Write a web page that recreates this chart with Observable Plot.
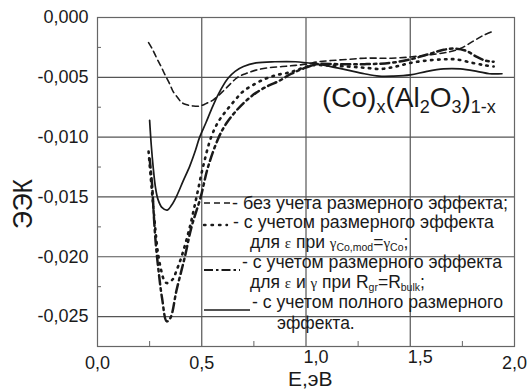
<!DOCTYPE html>
<html><head><meta charset="utf-8">
<script src="https://cdn.jsdelivr.net/npm/d3@7"></script>
<script src="https://cdn.jsdelivr.net/npm/@observablehq/plot@0.6"></script>
<style>
body{margin:0;background:#fff;}
#chart{position:relative;width:528px;height:391px;overflow:hidden;}
#chart svg{position:absolute;left:0;top:0;}
</style></head><body><div id="chart"></div>
<script>
// ---- data (E in eV, ЭЭК) ----
const E_dashed = [0.245,0.265,0.284,0.305,0.324,0.345,0.363,0.385,0.403,0.43,0.46,0.49,0.52,0.554,0.6,0.64,0.672,0.71,0.76,0.82,0.886,0.95,1.0,1.06,1.12,1.2,1.28,1.35,1.41,1.5,1.6,1.68,1.74,1.8,1.85,1.89];
const K_dashed = [-0.0021,-0.0027,-0.0034,-0.0041,-0.0048,-0.0055,-0.0062,-0.0067,-0.0071,-0.0073,-0.0074,-0.0074,-0.0072,-0.0069,-0.0062,-0.0055,-0.0050,-0.0047,-0.0044,-0.0042,-0.0041,-0.0040,-0.0039,-0.0037,-0.0036,-0.0035,-0.0034,-0.0034,-0.0034,-0.0033,-0.0031,-0.0029,-0.0026,-0.0020,-0.0015,-0.0012];

const E_dotted = [0.245,0.255,0.265,0.278,0.29,0.305,0.318,0.332,0.36,0.38,0.403,0.443,0.475,0.506,0.545,0.58,0.617,0.66,0.697,0.75,0.808,0.86,0.919,0.97,1.03,1.1,1.2,1.28,1.36,1.43,1.5,1.58,1.66,1.72,1.8,1.86,1.9];
const K_dotted = [-0.0112,-0.0133,-0.0153,-0.0178,-0.0197,-0.0211,-0.0219,-0.0222,-0.0219,-0.0211,-0.0200,-0.0175,-0.0150,-0.0125,-0.0100,-0.0087,-0.0078,-0.0069,-0.0062,-0.0056,-0.0051,-0.0048,-0.0046,-0.0043,-0.0040,-0.0040,-0.0041,-0.0042,-0.0043,-0.0041,-0.0038,-0.0036,-0.0035,-0.0035,-0.0038,-0.0040,-0.0041];

const E_dashdot = [0.25,0.262,0.27,0.28,0.295,0.31,0.332,0.35,0.379,0.419,0.451,0.495,0.53,0.582,0.62,0.665,0.71,0.76,0.82,0.871,0.93,0.983,1.05,1.15,1.28,1.4,1.5,1.6,1.66,1.72,1.77,1.82,1.86,1.9];
const K_dashdot = [-0.0118,-0.0140,-0.0165,-0.0190,-0.0215,-0.0235,-0.0254,-0.0251,-0.0228,-0.0200,-0.0175,-0.0150,-0.0125,-0.0100,-0.0088,-0.0078,-0.0070,-0.0063,-0.0057,-0.0053,-0.0047,-0.0043,-0.0039,-0.0039,-0.0039,-0.0038,-0.0035,-0.0030,-0.0027,-0.0026,-0.0028,-0.0033,-0.0036,-0.0037];

const E_solid = [0.25,0.258,0.267,0.278,0.29,0.31,0.335,0.355,0.38,0.41,0.443,0.47,0.49,0.52,0.546,0.58,0.625,0.66,0.7,0.76,0.85,0.95,1.05,1.12,1.2,1.28,1.35,1.42,1.5,1.58,1.66,1.74,1.82,1.88,1.94];
const K_solid = [-0.0086,-0.0107,-0.0125,-0.0142,-0.0152,-0.0159,-0.0161,-0.0157,-0.0149,-0.0137,-0.0124,-0.0111,-0.0100,-0.0088,-0.0077,-0.0064,-0.0051,-0.0045,-0.0041,-0.0038,-0.0037,-0.0037,-0.0039,-0.0041,-0.0044,-0.0047,-0.0049,-0.0049,-0.0048,-0.0045,-0.0043,-0.0043,-0.0045,-0.0047,-0.0047];

const xTicks = [0, 0.5, 1, 1.5, 2];
const xTicksShifted = [1, 1.5];
const xMinor = [0.25, 0.75, 1.25, 1.75];
const yTicks = [0, -0.005, -0.010, -0.015, -0.020, -0.025];
const yMinor = [-0.0025, -0.0075, -0.0125, -0.0175, -0.0225];

const xTitle = "E,эВ";
const yTitle = "ЭЭК";
const legendRows = [
  [{t:"- без учета размерного эффекта;"}],
  [{t:"- с учетом размерного эффекта"}],
  [{t:"для "},{t:"ε",g:1},{t:" при "},{t:"γ",g:1},{t:"Co,mod",s:1},{t:"="},{t:"γ",g:1},{t:"Co",s:1},{t:";"}],
  [{t:"- с учетом размерного эффекта"}],
  [{t:"для "},{t:"ε",g:1},{t:" и "},{t:"γ",g:1},{t:" при R"},{t:"gr",s:1},{t:"=R"},{t:"bulk",s:1},{t:";"}],
  [{t:"- с учетом полного размерного"}],
  [{t:"эффекта."}]
];

// ---- helpers ----
const rows = (E, K) => E.map((e, i) => ({E: e, K: K[i]}));
const loc = d3.formatLocale({decimal: ",", thousands: " ", grouping: [3], currency: ["", ""], minus: "-"});
const fy = loc.format(".3f"), fx = loc.format(".1f");
const FONT = "'Liberation Sans', Arial, sans-serif";
const INK = "#1a1a1a";

const plot = Plot.plot({
  width: 528, height: 391,
  marginLeft: 97, marginRight: 14, marginTop: 17, marginBottom: 45,
  style: {fontFamily: FONT, color: INK, background: "transparent", overflow: "visible"},
  x: {domain: [0, 2]},
  y: {domain: [-0.0275, 0]},
  marks: [
    Plot.gridX(xTicks.slice(1, -1), {stroke: "#555", strokeOpacity: 1, strokeWidth: 1.2}),
    Plot.gridY(yTicks.slice(1), {stroke: "#555", strokeOpacity: 1, strokeWidth: 1.2}),
    Plot.frame({stroke: "#666", strokeWidth: 1.2}),
    Plot.axisX(xMinor, {tickSize: -5, text: null, label: null, stroke: "#666"}),
    Plot.axisY(yMinor, {tickSize: -4, text: null, label: null, stroke: "#666"}),
    Plot.axisY(yTicks, {tickSize: 0, tickPadding: 9, tickFormat: fy, fontSize: 18, label: null}),
    Plot.axisX(xTicks.filter(v => !xTicksShifted.includes(v)), {tickSize: 0, tickPadding: 10, tickFormat: fx, fontSize: 18, label: null}),
    Plot.axisX(xTicksShifted, {tickSize: 0, tickPadding: 4, dx: 10, tickFormat: fx, fontSize: 18, label: null}),
    Plot.line(rows(E_dashed, K_dashed), {x: "E", y: "K", curve: "catmull-rom", stroke: INK, strokeWidth: 1.6, strokeDasharray: "6,4"}),
    Plot.line(rows(E_dotted, K_dotted), {x: "E", y: "K", curve: "catmull-rom", stroke: INK, strokeWidth: 2.6, strokeDasharray: "1.5,5.5", strokeLinecap: "round"}),
    Plot.line(rows(E_dashdot, K_dashdot), {x: "E", y: "K", curve: "catmull-rom", stroke: INK, strokeWidth: 2.5, strokeDasharray: "9,4,2.5,4"}),
    Plot.line(rows(E_solid, K_solid), {x: "E", y: "K", curve: "catmull-rom", stroke: INK, strokeWidth: 1.7})
  ]
});
document.getElementById("chart").appendChild(plot);

// ---- overlay: titles, formula and legend ----
const ov = d3.select("#chart").append("svg")
  .attr("width", 528).attr("height", 391)
  .style("font-family", FONT).style("pointer-events", "none");

// y title
ov.append("text").attr("transform", "translate(32,204) rotate(-90)")
  .attr("text-anchor", "middle").attr("font-size", 27).attr("fill", INK)
  .attr("textLength", 50).attr("lengthAdjust", "spacingAndGlyphs").text(yTitle);
// x title
ov.append("text").attr("x", 288).attr("y", 386)
  .attr("font-size", 21).attr("fill", INK).text(xTitle);

// formula
const f = ov.append("text").attr("x", 322).attr("y", 107).attr("font-size", 28).attr("fill", INK);
const parts = [["(Co)",0],["x",1],["(Al",0],["2",1],["O",0],["3",1],[")",0],["1-x",1]];
let prevSub = 0;
parts.forEach(([t, s]) => {
  const sp = f.append("tspan").text(t);
  if (s) sp.attr("font-size", 18);
  const shift = (s ? 6 : 0) - prevSub;
  if (shift) sp.attr("dy", shift);
  prevSub = s ? 6 : 0;
});

// legend samples
const samples = [
  {y: 203, x2: 230, w: 1.6, dash: "6,4"},
  {y: 225, x2: 227, w: 2.4, dash: "1.5,6", cap: "round"},
  {y: 270, x2: 240, w: 2.2, dash: "9,3,2.5,3"},
  {y: 310, x2: 250, w: 1.6, dash: null}
];
samples.forEach(s => {
  const l = ov.append("line").attr("x1", 204).attr("x2", s.x2).attr("y1", s.y).attr("y2", s.y)
    .attr("stroke", INK).attr("stroke-width", s.w);
  if (s.dash) l.attr("stroke-dasharray", s.dash);
  if (s.cap) l.attr("stroke-linecap", s.cap);
});

// legend text rows
const rowX = [232, 233, 250, 242, 250, 252, 277];
const rowY = [209, 228, 248, 268, 288, 308, 329];
const rowLen = [276, 261, null, 260, null, 251, null];
legendRows.forEach((parts, i) => {
  const t = ov.append("text").attr("x", rowX[i]).attr("y", rowY[i])
    .attr("font-size", 17.5).attr("fill", INK);
  if (rowLen[i]) t.attr("textLength", rowLen[i]).attr("lengthAdjust", "spacingAndGlyphs");
  let prev = 0;
  parts.forEach(p => {
    const sp = t.append("tspan").text(p.t);
    if (p.g) sp.attr("font-family", "'Liberation Serif', 'Times New Roman', serif").attr("font-size", 15);
    if (p.s) sp.attr("font-size", 10.5);
    const cur = p.s ? 3 : 0;
    if (cur - prev) sp.attr("dy", cur - prev);
    prev = cur;
  });
});
</script>
</body></html>
